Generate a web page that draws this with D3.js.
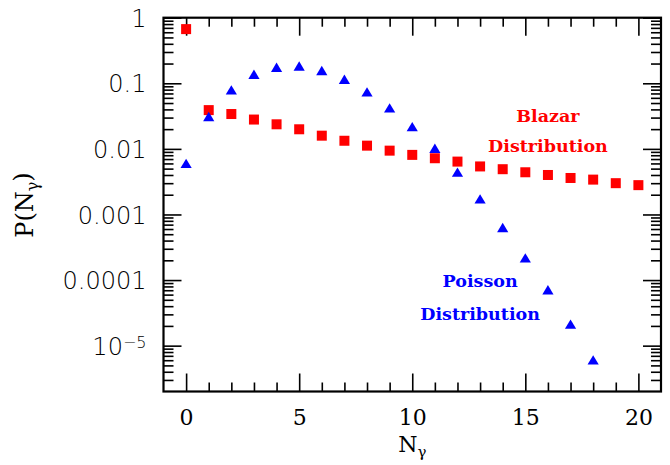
<!DOCTYPE html>
<meta charset="utf-8">
<style>
  body { margin: 0; background: #fff; }
</style>
<script src="https://d3js.org/d3.v7.min.js"></script>
<div id="chart"></div>
<script>

// data
var blazarN = [0, 1, 2, 3, 4, 5, 6, 7, 8, 9, 10, 11, 12, 13, 14, 15, 16, 17, 18, 19, 20];
var blazarP = [0.67, 0.039, 0.034, 0.028, 0.0237, 0.0199, 0.0159, 0.0133, 0.0112, 0.0094, 0.0081,
               0.0072, 0.0064, 0.0054, 0.0049, 0.0044, 0.0040, 0.0036, 0.0034, 0.0030, 0.0028];

var poissonN = [0, 1, 2, 3, 4, 5, 6, 7, 8, 9, 10, 11, 12, 13, 14, 15, 16, 17, 18];
var poissonP = [0.0060, 0.031, 0.079, 0.137, 0.175, 0.183, 0.156, 0.115, 0.0737, 0.042, 0.0218,
                0.0102, 0.0044, 0.00172, 0.00063, 0.000217, 0.000071, 0.0000212, 0.00000605];

var xMajor = [0, 5, 10, 15, 20];
var xMinor = [1, 2, 3, 4, 6, 7, 8, 9, 11, 12, 13, 14, 16, 17, 18, 19];
var yMajor = [1, 0.1, 0.01, 0.001, 0.0001, 0.00001];
var yLabels = ["1", "0.1", "0.01", "0.001", "0.0001", "10"];

// plot frame (pixels)
var pL = 163.5, pR = 661, pT = 17.7, pB = 391.5;

var svg = d3.select("#chart")
  .append("svg")
    .attr("width", 670)
    .attr("height", 465);

var x = d3.scaleLinear().domain([-1, 21]).range([pL, pR]);
var y = d3.scaleLog().domain([2e-6, 1]).range([pB, pT]);

// minor log ticks 2..9 per decade
var yMinor = [];
[-6, -5, -4, -3, -2, -1].forEach(function(e) {
  for (var k = 2; k <= 9; k++) {
    var v = k * Math.pow(10, e);
    if (v > 2e-6 && v < 1) yMinor.push(v);
  }
});

function styleAxis(g) {
  g.select(".domain").remove();
  g.selectAll(".tick line").attr("stroke", "#000").attr("stroke-width", 1.6);
}

// bottom
svg.append("g").attr("transform", "translate(0," + pB + ")")
  .call(d3.axisBottom(x).tickValues(xMajor).tickSize(-18).tickPadding(18).tickFormat(d3.format("d")))
  .call(styleAxis)
  .selectAll("text").style("font", "22px 'DejaVu Serif'").attr("fill", "#000");
svg.append("g").attr("transform", "translate(0," + pB + ")")
  .call(d3.axisBottom(x).tickValues(xMinor).tickSize(-9).tickFormat(""))
  .call(styleAxis);

// top
svg.append("g").attr("transform", "translate(0," + pT + ")")
  .call(d3.axisTop(x).tickValues(xMajor).tickSize(-18).tickFormat(""))
  .call(styleAxis);
svg.append("g").attr("transform", "translate(0," + pT + ")")
  .call(d3.axisTop(x).tickValues(xMinor).tickSize(-9).tickFormat(""))
  .call(styleAxis);

// left
var yl = svg.append("g").attr("transform", "translate(" + pL + ",0)")
  .call(d3.axisLeft(y).tickValues(yMajor).tickSize(-18).tickPadding(17)
    .tickFormat(function(d, i) { return yLabels[i]; }))
  .call(styleAxis);
yl.selectAll("text")
  .style("font", "24px 'DejaVu Sans'").style("font-weight", "200")
  .attr("fill", "#000").attr("dy", "0.36em");
yl.selectAll(".tick text").filter(function(d) { return d === 0.00001; })
  .append("tspan").attr("dy", "-0.45em").style("font-size", "16px").text("\u22125");
svg.append("g").attr("transform", "translate(" + pL + ",0)")
  .call(d3.axisLeft(y).tickValues(yMinor).tickSize(-10).tickFormat(""))
  .call(styleAxis);

// right
svg.append("g").attr("transform", "translate(" + pR + ",0)")
  .call(d3.axisRight(y).tickValues(yMajor).tickSize(-18).tickFormat(""))
  .call(styleAxis);
svg.append("g").attr("transform", "translate(" + pR + ",0)")
  .call(d3.axisRight(y).tickValues(yMinor).tickSize(-10).tickFormat(""))
  .call(styleAxis);

// frame
svg.append("rect")
  .attr("x", pL).attr("y", pT)
  .attr("width", pR - pL).attr("height", pB - pT)
  .attr("fill", "none").attr("stroke", "#000").attr("stroke-width", 2.2);

// blazar squares
svg.selectAll("rect.blazar")
  .data(blazarN)
  .enter()
  .append("rect")
    .attr("class", "blazar")
    .attr("x", function(d) { return x(d) - 5; })
    .attr("y", function(d, i) { return y(blazarP[i]) - 5; })
    .attr("width", 10)
    .attr("height", 10)
    .attr("fill", "#ff0000");

// poisson triangles
svg.selectAll("path.poisson")
  .data(poissonN)
  .enter()
  .append("path")
    .attr("class", "poisson")
    .attr("d", function(d, i) {
      var cx = x(d), cy = y(poissonP[i]);
      return "M" + cx + "," + (cy - 4.8) + "L" + (cx + 5.6) + "," + (cy + 4.6) +
             "L" + (cx - 5.6) + "," + (cy + 4.6) + "Z";
    })
    .attr("fill", "#0000ff");

// annotations
var annFont = "bold 17.5px 'DejaVu Serif'";
svg.append("text").attr("x", x(16)).attr("y", y(0.0255))
  .attr("text-anchor", "middle").style("font", annFont).attr("fill", "#ff0000").text("Blazar");
svg.append("text").attr("x", x(16)).attr("y", y(0.0089))
  .attr("text-anchor", "middle").style("font", annFont).attr("fill", "#ff0000").text("Distribution");
svg.append("text").attr("x", x(13)).attr("y", y(7.85e-5))
  .attr("text-anchor", "middle").style("font", annFont).attr("fill", "#0000ff").text("Poisson");
svg.append("text").attr("x", x(13)).attr("y", y(2.47e-5))
  .attr("text-anchor", "middle").style("font", annFont).attr("fill", "#0000ff").text("Distribution");

// axis titles
var xt = svg.append("text")
  .attr("x", (pL + pR) / 2).attr("y", 452)
  .attr("text-anchor", "middle")
  .style("font", "22px 'DejaVu Serif'")
  .text("N");
xt.append("tspan").attr("dy", "0.3em").style("font-size", "15px").text("\u03b3");

var ytl = svg.append("text")
  .attr("transform", "translate(33,205) rotate(-90)")
  .attr("text-anchor", "middle")
  .style("font", "24px 'DejaVu Serif'")
  .text("P(N");
ytl.append("tspan").attr("dy", "0.3em").style("font-size", "16px").text("\u03b3");
ytl.append("tspan").attr("dy", "-0.3em").text(")");

</script>
